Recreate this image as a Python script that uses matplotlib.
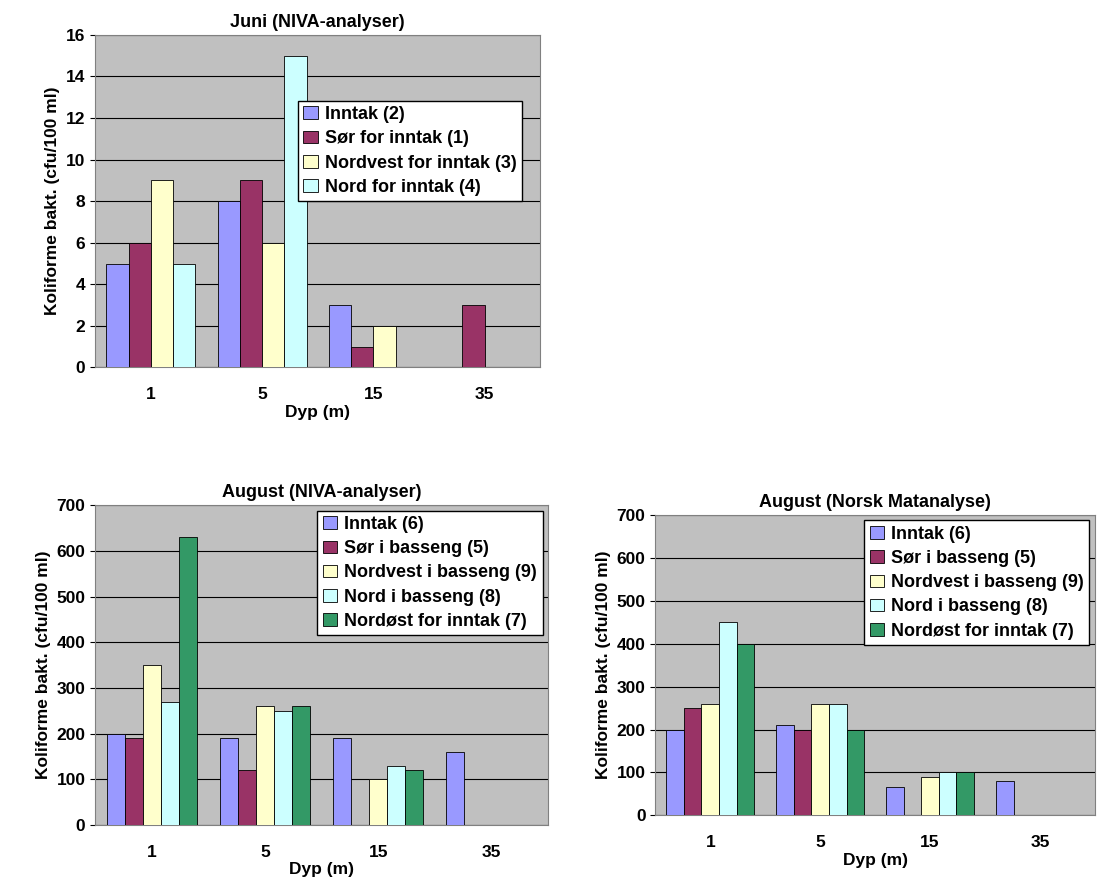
import matplotlib.pyplot as plt
import numpy as np

depths = ['1', '5', '15', '35']

juni_labels = ['Inntak (2)', 'Sør for inntak (1)', 'Nordvest for inntak (3)', 'Nord for inntak (4)']
juni_values = [
    [5, 8, 3, 0],
    [6, 9, 1, 3],
    [9, 6, 2, 0],
    [5, 15, 0, 0],
]

aug_labels = ['Inntak (6)', 'Sør i basseng (5)', 'Nordvest i basseng (9)', 'Nord i basseng (8)', 'Nordøst for inntak (7)']
aug_niva = [
    [200, 190, 190, 160],
    [190, 120, 0, 0],
    [350, 260, 100, 0],
    [270, 250, 130, 0],
    [630, 260, 120, 0],
]
aug_norsk = [
    [200, 210, 65, 80],
    [250, 200, 0, 0],
    [260, 260, 90, 0],
    [450, 260, 100, 0],
    [400, 200, 100, 0],
]

colors = ['#9999FF', '#993366', '#FFFFCC', '#CCFFFF', '#339966']
plt.rcParams['font.family'] = ['Liberation Sans', 'DejaVu Sans']
plt.rcParams['font.weight'] = 'bold'


def bar_chart(ax, values, labels, title, ymax, step, legend_loc):
    n = len(values)
    w = 0.8 / 4 if n == 4 else 0.8 / 5
    x = np.arange(len(depths))
    for i, vals in enumerate(values):
        ax.bar(x - 0.4 + w * (i + 0.5), vals, w, color=colors[i], edgecolor='black', linewidth=0.6,
               label=labels[i], zorder=3)
    ax.set_facecolor('#C0C0C0')
    ax.set_xlim(-0.5, len(depths) - 0.5)
    ax.set_ylim(0, ymax)
    ax.set_yticks(np.arange(0, ymax + 1, step))
    ax.yaxis.grid(True, color='black', linewidth=0.8, zorder=0)
    ax.set_xticks(x, depths)
    ax.tick_params(labelsize=12.5)
    ax.tick_params(axis='x', length=0, pad=14)
    for s in ax.spines.values():
        s.set_color('#808080')
    ax.set_title(title, fontsize=13, fontweight='bold')
    ax.set_xlabel('Dyp (m)', fontsize=12.5, fontweight='bold', labelpad=2)
    ax.set_ylabel('Koliforme bakt. (cfu/100 ml)', fontsize=12.5, fontweight='bold')
    leg = ax.legend(loc=legend_loc, fontsize=13, fancybox=False, framealpha=1, edgecolor='black',
                    borderpad=0.3, labelspacing=0.4, handlelength=0.8, handletextpad=0.4,
                    borderaxespad=0.3)
    return leg


fig = plt.figure(figsize=(11.07, 8.94), dpi=100)
ax1 = fig.add_axes([0.086, 0.589, 0.402, 0.372])
bar_chart(ax1, juni_values, juni_labels, 'Juni (NIVA-analyser)', 16, 2, (0.455, 0.5))
ax2 = fig.add_axes([0.086, 0.077, 0.409, 0.358])
bar_chart(ax2, aug_niva, aug_labels, 'August (NIVA-analyser)', 700, 100, 'upper right')
ax3 = fig.add_axes([0.592, 0.088, 0.397, 0.336])
bar_chart(ax3, aug_norsk, aug_labels, 'August (Norsk Matanalyse)', 700, 100, 'upper right')
fig.savefig('out.png')
